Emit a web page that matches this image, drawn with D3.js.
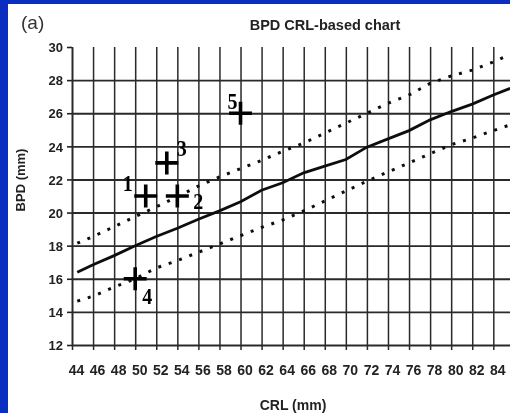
<!DOCTYPE html>
<html>
<head>
<meta charset="utf-8">
<script src="https://cdn.jsdelivr.net/npm/d3@7/dist/d3.min.js"></script>
<style>
  html, body { margin: 0; padding: 0; background: #fff; }
  svg { display: block; }
</style>
</head>
<body>
<svg id="chart" width="510" height="413"></svg>
<script>
// ---------- data ----------
const xTicks = [44,46,48,50,52,54,56,58,60,62,64,66,68,70,72,74,76,78,80,82,84];
const yTicks = [12,14,16,18,20,22,24,26,28,30];
const curveCRL    = [44.5,46,48,50,52,54,56,58,60,62,64,66,68,70,72,74,76,78,80,82,84,85.6];
const medianBPD   = [16.4,16.85,17.4,18.0,18.55,19.05,19.6,20.1,20.65,21.35,21.8,22.4,22.8,23.2,23.95,24.45,24.95,25.6,26.1,26.55,27.1,27.5];
const upperBPD    = [18.15,18.55,19.15,19.75,20.35,20.95,21.6,22.15,22.65,23.15,23.7,24.2,24.8,25.4,26.0,26.6,27.1,27.8,28.25,28.6,29.1,29.55];
const lowerBPD    = [14.65,14.95,15.5,16.0,16.65,17.1,17.6,18.1,18.6,19.1,19.55,20.1,20.7,21.3,21.9,22.45,23.0,23.55,24.1,24.5,24.95,25.3];
const caseLabels  = ["1","2","3","4","5"];
const caseCRL     = [51,54,53,50,60];
const caseBPD     = [21,21,23,16,26];
const titleText   = "BPD CRL-based chart";
const panelText   = "(a)";
const xTitle      = "CRL (mm)";
const yTitle      = "BPD (mm)";

// ---------- layout / style ----------
const labelOffsets = {"1":[-18,-13], "2":[21,5], "3":[15,-15], "4":[12,17], "5":[-8,-12]};
const svg = d3.select("#chart");
const W = 510, H = 413;

const x = d3.scaleLinear().domain([44, 84]).range([72, 493.3]);
const y = d3.scaleLinear().domain([12, 30]).range([345, 47]);

// frame
svg.append("rect").attr("width", W).attr("height", H).attr("fill", "#0a2fc0");
svg.append("rect").attr("x", 8).attr("y", 4).attr("width", W - 8).attr("height", H - 4).attr("fill", "#ffffff");

const defs = svg.append("defs");
defs.append("filter").attr("id", "soft").append("feGaussianBlur").attr("stdDeviation", 0.35);

const g = svg.append("g").attr("filter", "url(#soft)");
const sansN = "'Liberation Sans Narrow','Arial Narrow','Liberation Sans',Arial,sans-serif";
const sans = "'Liberation Sans',Arial,sans-serif";

// horizontal gridlines (y axis with ticks extending across)
const yAxis = d3.axisLeft(y).tickValues(yTicks).tickSizeOuter(0).tickPadding(4)
  .tickSizeInner(5);
const yg = g.append("g").attr("transform", "translate(72,0)").call(yAxis);
yg.select(".domain").attr("stroke", "#222").attr("stroke-width", 1.6);
yg.selectAll(".tick line").attr("stroke", "#222").attr("stroke-width", 1.6);
yg.selectAll(".tick").filter(d => d !== 30).append("line")
  .attr("x1", 0).attr("x2", W).attr("stroke", "#2a2a2a").attr("stroke-width", 1.9);
yg.selectAll(".tick text")
  .attr("font-family", sans).attr("font-weight", "bold").attr("font-size", 13)
  .attr("fill", "#222").attr("dy", "0.36em");

// vertical gridlines via bottom axis
const xAxis = d3.axisBottom(x).tickValues(xTicks).tickSizeOuter(0)
  .tickSizeInner(-(y(12) - y(30)) - 5).tickPadding(25);
const xg = g.append("g").attr("transform", `translate(0,${y(12) + 5})`).call(xAxis);
xg.select(".domain").remove();
xg.selectAll(".tick line").attr("stroke", "#2a2a2a").attr("stroke-width", 1.5);
xg.selectAll(".tick text")
  .attr("font-family", sansN).attr("font-weight", "bold").attr("font-size", 14)
  .attr("fill", "#222").attr("dx", 4).attr("dy", 0);

// curves
const line = d3.line().x(d => x(d[0])).y(d => y(d[1]));
const mk = arr => curveCRL.map((c, i) => [c, arr[i]]);
g.append("path").datum(mk(upperBPD)).attr("d", line).attr("fill", "none")
  .attr("stroke", "#111").attr("stroke-width", 3).attr("stroke-dasharray", "3 8");
g.append("path").datum(mk(lowerBPD)).attr("d", line).attr("fill", "none")
  .attr("stroke", "#111").attr("stroke-width", 3).attr("stroke-dasharray", "3 8");
g.append("path").datum(mk(medianBPD)).attr("d", line).attr("fill", "none")
  .attr("stroke", "#111").attr("stroke-width", 2.8);

// case points
const cases = caseLabels.map((l, i) => ({label: l, crl: caseCRL[i], bpd: caseBPD[i]}));
g.selectAll("path.case").data(cases).join("path").attr("class", "case")
  .attr("d", d => {
    const cx = x(d.crl), cy = y(d.bpd), r = 11.5;
    return `M${cx - r},${cy}H${cx + r}M${cx},${cy - r}V${cy + r}`;
  })
  .attr("stroke", "#000").attr("stroke-width", 3.6).attr("fill", "none");
g.selectAll("text.case").data(cases).join("text").attr("class", "case")
  .attr("transform", d => {
    const o = labelOffsets[d.label];
    return `translate(${x(d.crl) + o[0]},${y(d.bpd) + o[1] + 8}) scale(1,1.2)`;
  })
  .attr("text-anchor", "middle")
  .attr("font-family", "'Liberation Serif','Times New Roman',serif")
  .attr("font-weight", "bold").attr("font-size", 20).attr("fill", "#000")
  .text(d => d.label);

// titles
g.append("text").attr("x", 325).attr("y", 30).attr("text-anchor", "middle")
  .attr("font-family", sans).attr("font-weight", "bold").attr("font-size", 14.5)
  .attr("fill", "#222").text(titleText);
g.append("text").attr("x", 21).attr("y", 29)
  .attr("font-family", sans).attr("font-size", 19).attr("fill", "#333").text(panelText);
g.append("text").attr("x", 293).attr("y", 410).attr("text-anchor", "middle")
  .attr("font-family", sans).attr("font-weight", "bold").attr("font-size", 14)
  .attr("fill", "#222").text(xTitle);
g.append("text").attr("transform", "translate(25,180) rotate(-90)").attr("text-anchor", "middle")
  .attr("font-family", sans).attr("font-weight", "bold").attr("font-size", 13)
  .attr("fill", "#222").text(yTitle);
</script>
</body>
</html>
